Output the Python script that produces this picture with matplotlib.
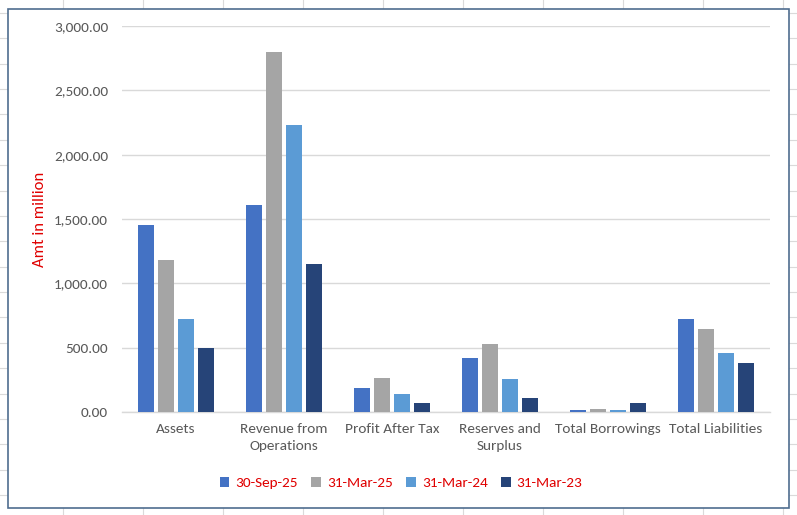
import matplotlib
matplotlib.use('Agg')
import matplotlib.pyplot as plt
from matplotlib.patches import Rectangle
from matplotlib.lines import Line2D
from matplotlib.ticker import FuncFormatter
import numpy as np

categories = ['Assets', 'Revenue from\nOperations', 'Profit After Tax',
              'Reserves and\nSurplus', 'Total Borrowings', 'Total Liabilities']
series_names = ['30-Sep-25', '31-Mar-25', '31-Mar-24', '31-Mar-23']
sep25 = [1454, 1608, 184, 418, 16, 723]
mar25 = [1182, 2798, 262, 527, 23, 645]
mar24 = [723, 2230, 138, 254, 16, 459]
mar23 = [500, 1149, 68, 107, 70, 381]
yticks = [0, 500, 1000, 1500, 2000, 2500, 3000]
colors = ['#4472C4', '#A5A5A5', '#5B9BD5', '#264478']

plt.rcParams['font.family'] = ['Carlito', 'Lato', 'DejaVu Sans']

W, H = 797, 515
fig = plt.figure(figsize=(W / 100, H / 100), dpi=100)
fig.patch.set_facecolor('white')

def fx(px):
    return px / W

def fy(py):
    return 1 - py / H

# spreadsheet cell grid behind the chart
for x in range(63, W, 80):
    fig.add_artist(Line2D([fx(x), fx(x)], [0, 1], color='#DADADA', lw=0.8, zorder=0))
for y in np.linspace(13, 495, 20):
    fig.add_artist(Line2D([0, 1], [fy(y), fy(y)], color='#DADADA', lw=0.8, zorder=0))

# chart area
fig.add_artist(Rectangle((fx(8), fy(508)), fx(789) - fx(8), fy(9) - fy(508),
                         facecolor='white', edgecolor='#4F6D8F', lw=1.2, zorder=1))

ax = fig.add_axes([fx(122), fy(412), fx(770) - fx(122), fy(26) - fy(412)], zorder=2)
ax.set_facecolor('none')

x = np.arange(len(categories))
width = 0.148
step = 0.185
all_series = [sep25, mar25, mar24, mar23]
handles = []
for i, (vals, name, c) in enumerate(zip(all_series, series_names, colors)):
    b = ax.bar(x + (i - 1.5) * step, vals, width=width, color=c, label=name, zorder=3)
    handles.append(b)

ax.set_xlim(-0.5, len(categories) - 0.5)
ax.set_ylim(0, 3000)
ax.set_yticks(yticks)
ax.yaxis.set_major_formatter(FuncFormatter(lambda v, p: f'{v:,.2f}'))
ax.set_xticks(x)
ax.set_xticklabels(categories, linespacing=1.45)
ax.tick_params(axis='y', length=0, pad=10, labelsize=11, labelcolor='#595959')
ax.tick_params(axis='x', length=0, pad=8, labelsize=11, labelcolor='#595959')
ax.grid(axis='y', color='#D9D9D9', lw=1.0, zorder=0)
ax.set_axisbelow(True)
for s in ['top', 'right', 'left']:
    ax.spines[s].set_visible(False)
ax.spines['bottom'].set_color('#D9D9D9')
ax.spines['bottom'].set_linewidth(1.0)

fig.text(fx(40), fy(219), 'Amt in million', rotation=90, color='#E00000',
         ha='center', va='center', fontsize=12, zorder=3)

leg = fig.legend(handles=handles, labels=series_names, loc='center',
                 bbox_to_anchor=(fx(401), fy(483)), ncol=4, frameon=False,
                 handlelength=0.65, handleheight=0.65, handletextpad=0.4,
                 columnspacing=0.85, fontsize=11)
for t in leg.get_texts():
    t.set_color('#E00000')
leg.set_zorder(3)

fig.savefig('out.png', dpi=100, facecolor='white')
